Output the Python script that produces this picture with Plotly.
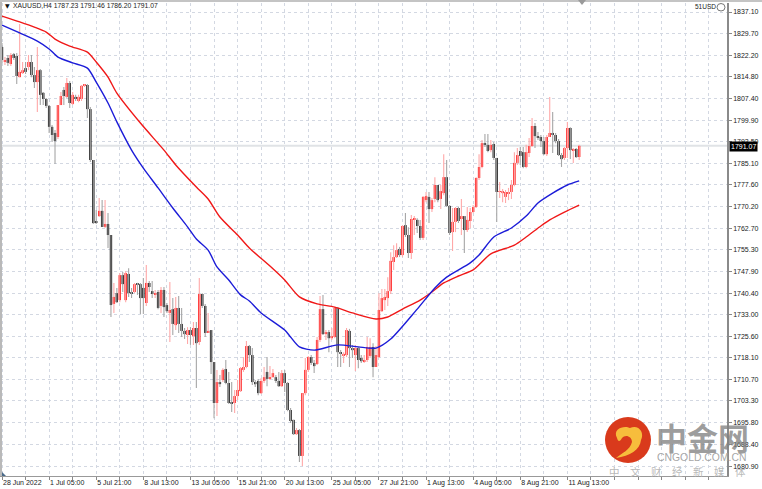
import plotly.graph_objects as go

opens = [1825.1,1819.9,1821.3,1819.2,1822.6,1822.0,1814.7,1816.1,1817.8,1818.2,1819.9,1815.4,1813.0,1817.1,1809.3,1807.2,1804.8,1797.6,1795.5,1794.1,
1805.1,1810.3,1807.9,1812.7,1805.5,1807.9,1806.5,1807.2,1811.7,1812.0,1803.7,1786.2,1765.2,1766.9,1768.7,1763.2,1764.2,1760.4,1736.7,1740.4,
1738.0,1746.6,1738.0,1747.0,1740.8,1740.8,1743.9,1743.5,1742.2,1737.0,1743.9,1741.1,1740.1,1740.8,1736.0,1741.5,1736.3,1733.6,1734.9,1729.4,
1735.3,1729.8,1727.4,1726.0,1727.7,1725.6,1728.4,1723.6,1740.1,1736.0,1726.7,1727.7,1716.7,1702.6,1709.8,1710.5,1714.3,1709.5,1702.9,1702.6,
1705.0,1706.7,1714.0,1715.0,1722.2,1719.1,1709.8,1710.2,1706.0,1710.2,1713.3,1710.9,1711.5,1711.5,1710.2,1708.4,1712.9,1709.5,1700.2,1696.8,
1691.9,1693.3,1684.4,1706.0,1714.0,1718.4,1716.4,1716.0,1724.3,1734.9,1726.3,1727.0,1724.9,1725.3,1735.3,1720.1,1719.1,1719.1,1727.4,1721.5,
1719.1,1721.5,1718.1,1717.0,1717.4,1718.8,1721.9,1715.0,1718.4,1734.2,1738.0,1738.7,1741.1,1751.1,1752.8,1755.6,1753.5,1763.8,1760.4,1754.2,
1765.6,1765.6,1763.5,1759.4,1772.4,1773.5,1769.3,1772.8,1777.6,1772.8,1774.8,1780.3,1770.4,1761.4,1764.9,1769.7,1765.9,1766.9,1762.1,1765.2,
1768.3,1770.0,1780.0,1783.8,1792.0,1791.4,1789.6,1791.7,1786.9,1775.2,1774.8,1773.5,1774.5,1775.2,1777.6,1785.2,1789.3,1788.9,1783.8,1788.6,
1791.0,1797.9,1794.4,1794.1,1792.7,1788.2,1794.1,1795.5,1794.8,1792.7,1787.9,1786.9,1790.3,1797.2,1789.6,1790.0,1787.23]
highs = [1826.4,1821.6,1822.3,1823.0,1823.0,1823.0,1833.0,1819.9,1819.9,1822.3,1822.3,1818.2,1825.1,1817.5,1809.6,1807.5,1805.1,1798.2,1796.5,1805.1,
1809.6,1811.3,1814.4,1813.4,1809.6,1808.6,1808.6,1812.0,1812.3,1812.3,1804.4,1786.2,1769.0,1773.1,1772.4,1772.4,1768.0,1760.4,1743.9,1742.2,
1747.3,1747.7,1748.0,1749.0,1742.2,1743.9,1743.9,1743.9,1745.6,1750.1,1744.6,1744.6,1741.5,1741.5,1742.5,1742.5,1737.0,1744.2,1738.7,1739.1,
1739.4,1735.3,1728.4,1728.7,1728.7,1730.5,1730.5,1745.6,1740.4,1736.7,1733.6,1727.7,1716.7,1714.0,1712.2,1714.6,1717.4,1713.3,1709.8,1707.1,
1710.5,1715.0,1718.4,1723.9,1722.6,1721.5,1710.5,1710.9,1711.2,1715.0,1718.4,1715.3,1714.3,1712.2,1713.3,1714.0,1714.0,1709.8,1700.9,1696.8,
1694.0,1693.7,1706.0,1718.1,1718.8,1719.1,1717.4,1725.3,1739.4,1739.8,1727.7,1727.7,1728.4,1735.6,1735.6,1720.8,1720.1,1728.4,1728.1,1722.6,
1722.6,1721.9,1719.1,1719.1,1725.3,1724.9,1723.2,1722.2,1740.4,1741.8,1741.8,1745.9,1754.5,1756.9,1757.6,1756.3,1763.8,1768.0,1763.1,1767.3,
1766.9,1766.2,1765.6,1773.8,1775.2,1775.2,1773.1,1780.3,1777.6,1777.6,1788.2,1786.2,1770.7,1769.7,1770.0,1770.0,1772.8,1766.9,1770.0,1769.7,
1770.7,1780.3,1788.2,1793.1,1795.1,1795.1,1793.1,1792.4,1786.9,1778.6,1776.2,1775.9,1776.6,1779.3,1788.9,1790.3,1790.7,1790.7,1791.4,1793.8,
1800.6,1798.9,1795.8,1794.8,1794.1,1794.8,1807.9,1802.7,1795.5,1793.4,1788.6,1790.7,1799.3,1797.5,1790.3,1790.3,1791.46]
lows = [1819.6,1818.9,1818.5,1818.5,1820.6,1812.3,1814.7,1815.8,1815.8,1817.1,1814.7,1811.0,1802.7,1805.1,1805.1,1804.1,1795.5,1792.4,1784.8,1793.4,
1805.1,1805.1,1807.5,1804.1,1805.1,1806.5,1806.1,1806.5,1811.3,1800.6,1785.5,1764.2,1764.2,1766.6,1763.2,1762.8,1755.9,1732.2,1733.6,1737.0,
1737.3,1740.8,1737.3,1739.1,1738.7,1740.4,1739.8,1733.2,1733.2,1736.0,1740.8,1738.7,1738.7,1734.9,1733.6,1732.2,1733.6,1723.6,1726.0,1727.7,
1726.7,1725.3,1724.6,1722.9,1722.6,1722.6,1707.8,1722.6,1735.3,1725.3,1726.7,1712.6,1697.4,1698.1,1708.1,1709.8,1709.1,1702.3,1699.5,1699.2,
1703.6,1706.4,1713.3,1714.6,1716.7,1708.8,1708.1,1705.3,1705.7,1709.5,1708.4,1710.5,1711.5,1709.5,1708.1,1708.1,1706.4,1699.8,1695.7,1691.6,
1691.6,1682.3,1680.9,1705.3,1713.3,1715.7,1712.9,1715.7,1723.6,1726.0,1724.3,1720.1,1724.3,1724.9,1715.0,1715.0,1716.4,1718.4,1715.0,1718.1,
1713.6,1714.6,1716.4,1716.4,1716.7,1718.1,1711.5,1715.0,1718.1,1733.9,1734.6,1736.0,1740.1,1748.4,1752.5,1752.8,1752.8,1759.7,1752.5,1752.1,
1760.4,1761.1,1758.7,1758.7,1771.7,1764.5,1768.3,1771.7,1771.7,1769.3,1774.1,1770.0,1760.4,1754.9,1761.4,1764.5,1760.4,1754.2,1761.4,1762.8,
1767.9,1769.7,1779.3,1783.4,1790.7,1788.9,1788.9,1786.2,1764.9,1773.1,1771.7,1771.4,1772.4,1772.8,1777.2,1784.5,1784.5,1783.4,1783.4,1787.2,
1790.7,1790.3,1793.1,1790.7,1787.9,1787.6,1794.1,1788.6,1792.0,1787.6,1783.8,1786.2,1786.9,1786.5,1785.2,1786.9,1786.20]
closes = [1820.6,1820.6,1819.6,1822.3,1821.3,1815.1,1816.5,1817.1,1816.5,1819.9,1815.4,1813.0,1817.1,1808.6,1807.2,1804.8,1797.6,1794.8,1792.7,1805.1,
1808.2,1808.2,1812.7,1805.8,1808.6,1807.2,1807.9,1811.7,1812.0,1803.7,1786.2,1764.5,1764.5,1768.7,1763.2,1764.2,1760.4,1736.3,1739.1,1737.3,
1746.6,1743.5,1747.3,1740.4,1740.1,1743.5,1743.2,1738.7,1738.7,1743.9,1742.5,1740.1,1740.4,1735.3,1741.5,1735.6,1734.2,1734.6,1729.8,1735.3,
1729.8,1727.4,1726.3,1727.7,1726.0,1728.4,1723.2,1740.1,1736.0,1726.7,1727.4,1716.7,1702.6,1709.8,1709.1,1714.0,1709.5,1702.6,1702.6,1705.0,
1707.1,1714.6,1715.0,1722.2,1719.1,1709.8,1709.1,1706.0,1710.2,1711.5,1710.9,1711.5,1712.9,1710.2,1708.4,1712.9,1709.5,1700.2,1696.4,1691.9,
1693.3,1684.4,1706.0,1714.0,1718.4,1716.4,1715.3,1724.3,1734.9,1726.3,1727.0,1724.9,1725.6,1735.3,1720.1,1719.5,1719.5,1727.7,1721.5,1720.8,
1721.5,1717.4,1717.0,1717.4,1721.9,1721.9,1715.0,1719.1,1734.6,1738.7,1739.1,1741.1,1751.5,1752.8,1755.2,1753.5,1763.5,1760.4,1754.2,1765.9,
1766.2,1763.5,1759.4,1773.5,1773.8,1769.3,1772.4,1777.6,1772.4,1775.5,1780.3,1770.4,1761.1,1764.9,1769.7,1765.2,1766.9,1762.1,1765.6,1768.3,
1770.0,1780.0,1783.8,1792.0,1791.4,1789.3,1791.4,1786.9,1775.2,1775.5,1775.5,1775.2,1775.2,1777.6,1785.2,1787.9,1787.6,1783.8,1788.9,1791.0,
1797.9,1794.4,1793.8,1792.7,1788.2,1794.1,1795.5,1794.8,1792.7,1787.9,1786.5,1790.3,1797.2,1789.6,1790.0,1787.2,1791.07]

ma_red_idx = [0,6,11,15,18,23,29,32,36,39,47,55,59,66,70,74,80,84,91,96,101,107,113,119,127,131,136,142,146,150,155,160,166,174,178,183,186,191,196]
ma_red = [1835.7,1833.7,1831.9,1830.2,1827.8,1825.4,1823.3,1819.9,1814.7,1809.2,1798.9,1789.6,1784.5,1776.9,1772.8,1766.6,1760.4,1755.9,1749.7,1744.9,
1739.1,1736.7,1735.6,1733.6,1731.5,1732.2,1734.9,1738.0,1740.8,1743.9,1746.3,1748.4,1753.9,1756.9,1759.7,1763.5,1765.6,1768.3,1770.7]
ma_blue_idx = [0,6,12,16,19,24,29,32,36,39,44,48,53,58,63,66,70,73,77,81,84,88,96,98,101,106,114,121,127,132,141,147,151,159,162,167,173,178,182,187,192,196]
ma_blue = [1832.6,1829.9,1827.1,1824.4,1821.6,1819.6,1817.8,1813.0,1805.8,1799.3,1789.6,1783.4,1776.6,1769.7,1763.2,1759.0,1755.2,1749.4,1744.9,1739.8,
1737.7,1733.6,1727.7,1725.3,1721.9,1720.8,1722.6,1721.9,1721.5,1724.6,1734.9,1742.2,1745.9,1750.8,1753.5,1759.7,1762.8,1766.9,1771.4,1774.8,1777.6,1779.0]

price_ticks = [1837.10,1829.70,1822.20,1814.80,1807.40,1799.90,1792.50,1785.10,1777.60,1770.20,1762.70,1755.30,1747.90,1740.40,1733.00,1725.60,1718.10,1710.70,1703.30,1695.80,1688.40,1680.90]
date_labels = ["28 Jun 2022","1 Jul 05:00","5 Jul 21:00","8 Jul 13:00","13 Jul 05:00","15 Jul 21:00","20 Jul 13:00","25 Jul 05:00","27 Jul 21:00","1 Aug 13:00","4 Aug 05:00","8 Aug 21:00","11 Aug 13:00"]

W, H = 762, 489
L, R, T, B = 0, 35, 3, 13
PW, PH = W - L - R, H - T - B
X = lambda p: (p - L) / PW
Y = lambda p: 1 - (p - T) / PH

idx = list(range(len(closes)))
up = [i for i in idx if closes[i] >= opens[i]]
dn = [i for i in idx if closes[i] < opens[i]]


def wick(ids):
    xs, ys = [], []
    for i in ids:
        xs += [i, i, None]
        ys += [highs[i], lows[i], None]
    return xs, ys


fig = go.Figure()
for ids, col in ((up, "#ffa8a8"), (dn, "#a6a6a6")):
    wx, wy = wick(ids)
    fig.add_trace(go.Scatter(x=wx, y=wy, mode="lines", line=dict(color=col, width=1.1), hoverinfo="skip", showlegend=False))
for ids, col in ((up, "#ff0000"), (dn, "#000000")):
    fig.add_trace(go.Bar(x=ids, y=[abs(closes[i] - opens[i]) for i in ids], base=[min(closes[i], opens[i]) for i in ids],
                         width=0.8, marker=dict(color=col, line=dict(width=0)), hoverinfo="skip", showlegend=False))
fig.add_trace(go.Scatter(x=ma_red_idx, y=ma_red, mode="lines", line=dict(color="#f01818", width=1.4, shape="spline", smoothing=0.7), hoverinfo="skip", showlegend=False))
fig.add_trace(go.Scatter(x=ma_blue_idx, y=ma_blue, mode="lines", line=dict(color="#1c1cd8", width=1.4, shape="spline", smoothing=0.7), hoverinfo="skip", showlegend=False))

tickvals = list(range(0, 241, 8))
ticktext = [date_labels[k // 16] if k % 16 == 0 and k // 16 < len(date_labels) else "" for k in tickvals]
font = "Liberation Sans"
fig.update_layout(
    width=W, height=H, margin=dict(l=L, r=R, t=T, b=B, pad=0),
    paper_bgcolor="#ffffff", plot_bgcolor="#ffffff", barmode="overlay", showlegend=False,
    font=dict(family=font, size=7, color="#222222"),
    xaxis=dict(range=[-0.68, 246.2], tickmode="array", tickvals=tickvals, ticktext=ticktext, ticks="outside", ticklen=3, tickcolor="#888888", tickangle=0,
               ticklabelposition="outside right", showgrid=True, gridcolor="#d3d8e2", griddash="dot", gridwidth=1, showline=True, linecolor="#999999", linewidth=1,
               zeroline=False, tickfont=dict(family=font, size=7, color="#222222")),
    yaxis=dict(side="right", range=[1677.5, 1840.2], tickmode="array", tickvals=price_ticks, ticktext=[f"{v:.2f}" for v in price_ticks], ticks="outside", ticklen=3,
               tickcolor="#888888", showgrid=True, gridcolor="#d3d8e2", griddash="dot", gridwidth=1, showline=True, linecolor="#8a8a8a", linewidth=1.5,
               zeroline=False, tickfont=dict(family=font, size=7, color="#222222")),
)

bid = closes[-1]
shapes = [
    dict(type="line", layer="below", xref="paper", yref="y", x0=0, x1=1, y0=bid, y1=bid, line=dict(color="#e0e3e6", width=2)),
    dict(type="rect", xref="paper", yref="paper", x0=X(0), x1=X(2), y0=Y(0), y1=Y(476), fillcolor="#b9b9b9", line=dict(width=0)),
    dict(type="rect", xref="paper", yref="paper", x0=X(0), x1=X(762), y0=Y(0), y1=Y(2), fillcolor="#c4c4c4", line=dict(width=0)),
    dict(type="path", xref="paper", yref="paper", fillcolor="#9a9a9a", line=dict(width=0),
         path=f"M {X(578)} {Y(0)} L {X(586)} {Y(0)} L {X(582)} {Y(5)} Z"),
    dict(type="path", xref="paper", yref="paper", fillcolor="#4a6a8a", line=dict(width=0),
         path=f"M {X(2)} {Y(472)} L {X(6)} {Y(476)} L {X(2)} {Y(476)} Z"),
    dict(type="circle", xref="paper", yref="paper", x0=X(717), x1=X(725), y0=Y(11), y1=Y(3.5), fillcolor="rgba(0,0,0,0)", line=dict(color="#777777", width=1)),
    dict(type="circle", xref="paper", yref="paper", x0=X(605), x1=X(651), y0=Y(463), y1=Y(417), fillcolor="#d93a1c", line=dict(width=0)),
    dict(type="path", xref="paper", yref="paper", fillcolor="#f7bd3c", line=dict(width=0),
         path=(f"M {X(617)} {Y(438)} C {X(612)} {Y(428)} {X(625)} {Y(425)} {X(630)} {Y(428)} "
               f"C {X(638)} {Y(424)} {X(645)} {Y(432)} {X(641)} {Y(440)} C {X(640)} {Y(450)} {X(630)} {Y(456)} {X(616)} {Y(458)} "
               f"C {X(622)} {Y(453)} {X(630)} {Y(450)} {X(632)} {Y(442)} C {X(632)} {Y(436)} {X(625)} {Y(434)} {X(622)} {Y(438)} "
               f"C {X(620)} {Y(442)} {X(618)} {Y(442)} {X(617)} {Y(438)} Z")),
]


def note(text, px, py, size=7, color="#222222", family=font, anchor="left", weight=None, **kw):
    f = dict(family=family, size=size, color=color)
    if weight:
        f["weight"] = weight
    return dict(text=text, xref="paper", yref="paper", x=X(px), y=Y(py), xanchor=anchor, yanchor="middle", showarrow=False, font=f, **kw)


annotations = [
    note("▼", 3, 6, size=6, color="#111111", family="DejaVu Sans"),
    note(f"XAUUSD,H4 {opens[-1]:.2f} {highs[-1]:.2f} {lows[-1]:.2f} {closes[-1]:.2f}", 11, 6, size=6.8),
    note("51USD", 693, 7, size=6.5),
    note(f"{bid:.2f}", 729, 146, color="#ffffff", bgcolor="#000000", borderpad=1),
    note("中金网", 654, 436, size=31, color="rgba(130,130,130,0.78)", family="Noto Sans CJK SC", weight=700),
    note("CNGOLD.COM.CN", 655, 457, size=10.4, color="rgba(160,160,160,0.95)"),
    note("中\u3000文\u3000财\u3000经\u3000新\u3000媒\u3000体", 607, 471, size=10.5, color="rgba(180,180,180,0.95)", family="Noto Sans CJK SC"),
]
fig.update_layout(shapes=shapes, annotations=annotations)
fig.write_html("out.html", config={"displayModeBar": False}, post_script="document.body.style.margin='0';document.body.style.background='#fff';")
